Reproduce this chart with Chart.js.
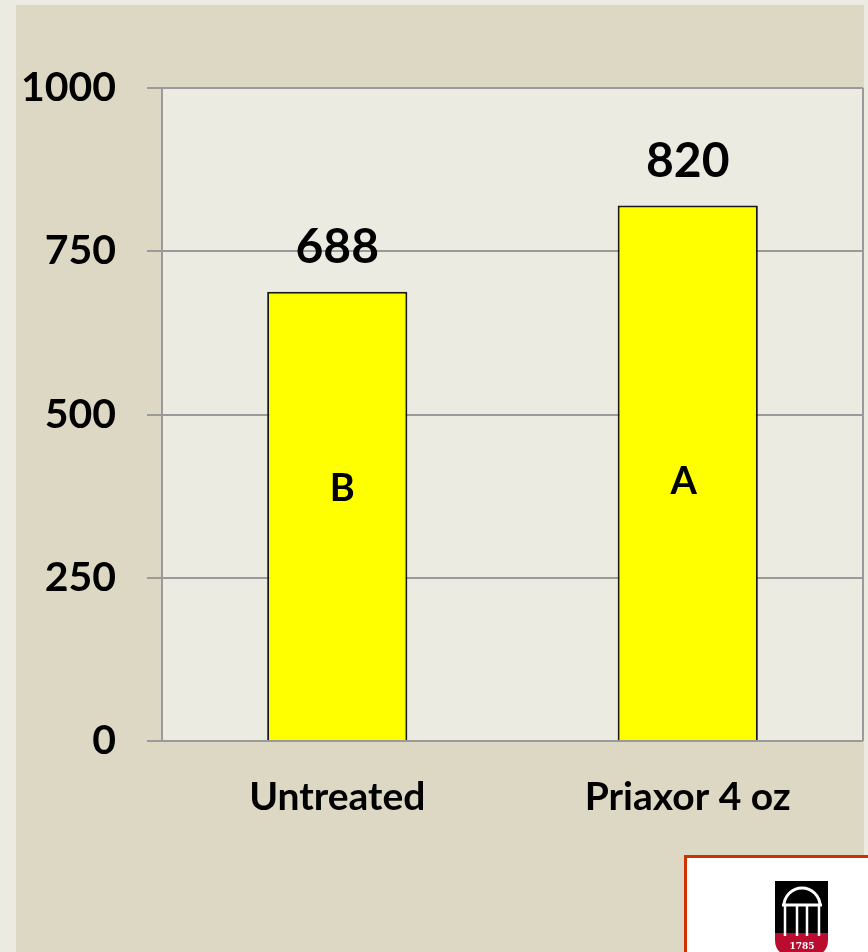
<!DOCTYPE html>
<html>
<head>
<meta charset="utf-8">
<script src="https://cdn.jsdelivr.net/npm/chart.js@4/dist/chart.umd.min.js"></script>
<style>
  body { margin: 0; background: #ecebe1; }
  canvas { display: block; }
</style>
</head>
<body>
<canvas id="graficoPriaxor" width="868" height="952"></canvas>
<script>
const categorias = ["Untreated", "Priaxor 4 oz"];
const valores = [688, 820];
const letras = ["B", "A"];
const ticksY = [0, 250, 500, 750, 1000];

const fonte = "Lato, 'Open Sans', sans-serif";

const fundoPlugin = {
  id: "fundo",
  beforeDraw(chart) {
    const ctx = chart.ctx;
    const area = chart.chartArea;
    ctx.save();
    ctx.fillStyle = "#ecebe1";
    ctx.fillRect(0, 0, chart.width, chart.height);
    ctx.fillStyle = "#ddd8c3";
    ctx.fillRect(16, 5, 848, chart.height - 5);
    ctx.fillStyle = "#ecebe1";
    ctx.fillRect(area.left, area.top, area.right - area.left, area.bottom - area.top);
    ctx.restore();
  },
  afterDraw(chart) {
    const ctx = chart.ctx;
    const area = chart.chartArea;
    ctx.save();
    // borda direita da area do grafico
    ctx.strokeStyle = "#9a9a9a";
    ctx.lineWidth = 2;
    ctx.beginPath();
    ctx.moveTo(area.right, area.top);
    ctx.lineTo(area.right, area.bottom);
    ctx.stroke();

    // logo no canto
    ctx.fillStyle = "#ffffff";
    ctx.fillRect(684, 855, 200, 120);
    ctx.strokeStyle = "#cc3300";
    ctx.lineWidth = 3;
    ctx.strokeRect(685.5, 856.5, 200, 120);

    ctx.fillStyle = "#000000";
    ctx.fillRect(775, 881, 53, 52);
    ctx.fillStyle = "#ba0c2f";
    ctx.beginPath();
    ctx.moveTo(775, 933);
    ctx.lineTo(828, 933);
    ctx.lineTo(828, 940);
    ctx.quadraticCurveTo(828, 958, 801.5, 958);
    ctx.quadraticCurveTo(775, 958, 775, 940);
    ctx.closePath();
    ctx.fill();

    ctx.strokeStyle = "#ffffff";
    ctx.lineWidth = 3;
    ctx.beginPath();
    ctx.arc(802, 906, 18, Math.PI, 0);
    ctx.stroke();
    ctx.beginPath();
    ctx.moveTo(782, 905);
    ctx.lineTo(822, 905);
    ctx.stroke();
    ctx.lineWidth = 2.5;
    [785, 797, 807, 819].forEach((x) => {
      ctx.beginPath();
      ctx.moveTo(x, 905);
      ctx.lineTo(x, 936);
      ctx.stroke();
    });
    ctx.fillStyle = "#ffffff";
    ctx.font = "bold 9px 'DejaVu Serif', serif";
    ctx.textAlign = "center";
    ctx.textBaseline = "middle";
    ctx.fillText("1785", 802, 947);
    ctx.restore();
  },
};

const rotulosPlugin = {
  id: "rotulos",
  afterDatasetsDraw(chart) {
    const ctx = chart.ctx;
    const meta = chart.getDatasetMeta(0);
    const escalaY = chart.scales.y;
    ctx.save();
    ctx.fillStyle = "#000000";
    ctx.textAlign = "center";
    ctx.textBaseline = "middle";
    meta.data.forEach((barra, i) => {
      ctx.font = "bold 48px " + fonte;
      ctx.fillText(String(valores[i]), barra.x, barra.y - 44);
      ctx.font = "bold 38px " + fonte;
      ctx.fillText(letras[i], barra.x + (i === 0 ? 5 : -4), escalaY.getPixelForValue(i === 0 ? 386 : 397));
    });
    ctx.restore();
  },
};

const grafico = new Chart(document.getElementById("graficoPriaxor"), {
  type: "bar",
  data: {
    labels: categorias,
    datasets: [
      {
        data: valores,
        backgroundColor: "#ffff00",
        borderColor: "#1a1a1a",
        borderWidth: 2,
        barPercentage: 0.4,
        categoryPercentage: 1,
      },
    ],
  },
  options: {
    responsive: false,
    animation: false,
    devicePixelRatio: 1,
    layout: {
      padding: { left: 0, right: 5, top: 88, bottom: 111 },
    },
    plugins: {
      legend: { display: false },
      tooltip: { enabled: false },
    },
    scales: {
      x: {
        grid: { display: false },
        border: { display: false },
        ticks: {
          color: "#000000",
          padding: 25,
          font: { family: fonte, size: 39, weight: "bold" },
        },
        afterFit: (escala) => {
          escala.height = 100;
        },
      },
      y: {
        min: 0,
        max: 1000,
        afterBuildTicks: (escala) => {
          escala.ticks = ticksY.map((v) => ({ value: v }));
        },
        grid: {
          color: "#9a9a9a",
          lineWidth: 2,
          tickLength: 15,
        },
        border: { color: "#9a9a9a", width: 2 },
        ticks: {
          color: "#000000",
          padding: 31,
          font: { family: fonte, size: 41, weight: "bold" },
          callback: (valor) => String(valor),
        },
        afterFit: (escala) => {
          escala.width = 162;
        },
      },
    },
  },
  plugins: [fundoPlugin, rotulosPlugin],
});
</script>
</body>
</html>
